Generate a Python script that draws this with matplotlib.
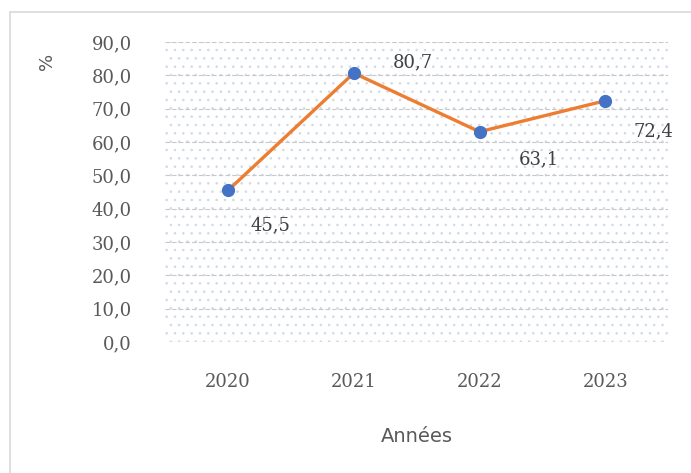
import matplotlib.pyplot as plt
from matplotlib.patches import Rectangle

# ── Data ─────────────────────────────────────────────
years = ['2020', '2021', '2022', '2023']
values = [45.5, 80.7, 63.1, 72.4]
value_labels = ['45,5', '80,7', '63,1', '72,4']
yticks = [0, 10, 20, 30, 40, 50, 60, 70, 80, 90]

# label offsets in points (dx, dy)
offsets = [(16, -25), (28, 8), (28, -20), (20, -22)]

GREY = '#595959'

fig = plt.figure(figsize=(6.91, 4.73), dpi=100)
fig.patches.append(Rectangle((0.014, -0.01), 1.0, 0.985, transform=fig.transFigure,
                             fill=False, edgecolor='#d9d9d9', lw=1.2))

ax = fig.add_axes([0.239, 0.277, 0.728, 0.634])

# dotted background
plt.rcParams['hatch.linewidth'] = 0.6
ax.add_patch(Rectangle((0, 0), 1, 1, transform=ax.transAxes, facecolor='white',
                       edgecolor='#cfd9ea', hatch='..', lw=0, zorder=0))

x = range(len(years))
ax.plot(x, values, color='#ED7D31', lw=2.4, zorder=3)
ax.plot(x, values, 'o', color='#4472C4', ms=8.5, zorder=4)

for i, (v, lab) in enumerate(zip(values, value_labels)):
    ax.annotate(lab, (i, v), xytext=offsets[i], textcoords='offset points',
                ha='left', va='center', fontsize=13, family='DejaVu Serif', color='#404040')

ax.set_xlim(-0.5, 3.5)
ax.set_ylim(0, 90)
ax.set_yticks(yticks)
ax.set_yticklabels([f'{t:.1f}'.replace('.', ',') for t in yticks],
                   family='DejaVu Serif', fontsize=13, color=GREY)
ax.set_xticks(list(x))
ax.set_xticklabels(years, family='DejaVu Serif', fontsize=13, color=GREY)
ax.tick_params(length=0, axis='y', pad=24)
ax.tick_params(length=0, axis='x', pad=22)
ax.grid(axis='y', color='#c8c8c8', lw=0.8, ls=(0, (4, 2)), zorder=1)
ax.set_axisbelow(True)
for s in ax.spines.values():
    s.set_visible(False)

ax.set_xlabel('Années', fontsize=14, color=GREY, labelpad=26)
fig.text(0.068, 0.87, '%', rotation=90, fontsize=13, color=GREY, ha='center', va='center')

plt.savefig('out.png', dpi=100)
